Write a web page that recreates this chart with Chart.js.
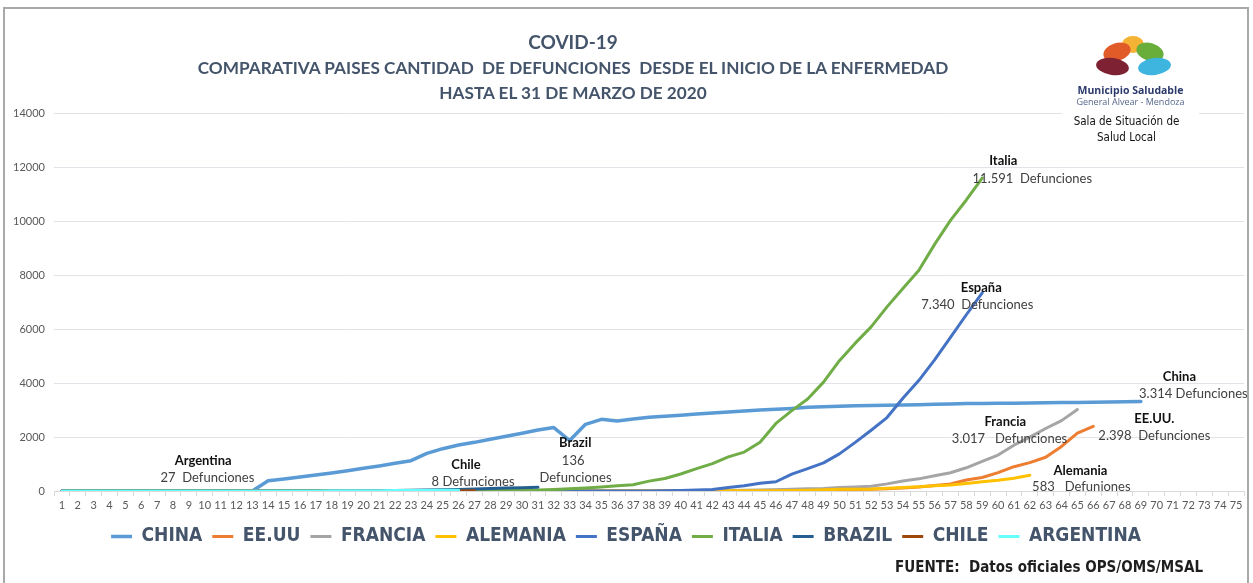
<!DOCTYPE html>
<html><head><meta charset="utf-8">
<script src="https://cdn.jsdelivr.net/npm/chart.js@4.4.1/dist/chart.umd.min.js"></script>
<style>
html,body{margin:0;padding:0;background:#fff;}
#wrap{position:relative;width:1253px;height:583px;overflow:hidden;background:#fff;}
#frame{position:absolute;left:3px;top:7px;width:1246px;height:620px;border:2px solid #A9A9A9;box-sizing:border-box;pointer-events:none;}
canvas{position:absolute;left:0;top:0;}
.t{position:absolute;left:173px;width:800px;text-align:center;color:#44546A;font-family:Lato,'Open Sans',sans-serif;font-weight:700;white-space:nowrap;line-height:1;}
#logo{position:absolute;left:1062px;top:22px;width:137px;height:128px;background:#fff;}
.p{position:absolute;border-radius:50%;}
.lt{position:absolute;left:0;width:137px;text-align:center;white-space:nowrap;line-height:1;}
#src{position:absolute;right:50px;top:560px;font-family:'Liberation Sans Narrow','DejaVu Sans Condensed','Roboto Condensed',sans-serif;font-weight:700;font-size:15px;color:#1E1E1E;white-space:nowrap;line-height:1;}
</style></head>
<body>
<div id="wrap">
<canvas id="c" width="1253" height="583"></canvas>
<div class="t" style="top:32px;font-size:19px;">COVID-19</div>
<div class="t" style="top:59px;font-size:17.2px;">COMPARATIVA PAISES CANTIDAD&nbsp; DE DEFUNCIONES&nbsp; DESDE EL INICIO DE LA ENFERMEDAD</div>
<div class="t" style="top:84px;font-size:17.2px;">HASTA EL 31 DE MARZO DE 2020</div>
<div id="logo">
  <div class="p" style="left:60px;top:14px;width:22px;height:17px;background:#F5B335;"></div>
  <div class="p" style="left:41px;top:21px;width:28px;height:18px;background:#E15B29;transform:rotate(-18deg);"></div>
  <div class="p" style="left:74px;top:21px;width:28px;height:18px;background:#69AD3B;transform:rotate(18deg);"></div>
  <div class="p" style="left:34px;top:36px;width:33px;height:17px;background:#7E2233;transform:rotate(8deg);"></div>
  <div class="p" style="left:76px;top:36px;width:33px;height:17px;background:#3DB5DE;transform:rotate(-8deg);"></div>
  <div class="p" style="left:68px;top:32px;width:8px;height:8px;background:#fff;"></div>
  <div class="lt" style="top:63px;font-family:'Open Sans',Lato,sans-serif;font-weight:700;font-size:10.5px;color:#2B3A6A;">Municipio Saludable</div>
  <div class="lt" style="top:75px;font-family:'Open Sans',Lato,sans-serif;font-size:9px;color:#56688C;">General Alvear - Mendoza</div>
  <div class="lt" style="top:94px;left:-4px;font-family:'Liberation Sans Narrow','DejaVu Sans Condensed',sans-serif;font-size:11.5px;color:#111;">Sala de Situación de</div>
  <div class="lt" style="top:110px;left:-4px;font-family:'Liberation Sans Narrow','DejaVu Sans Condensed',sans-serif;font-size:11.5px;color:#111;">Salud Local</div>
</div>
<div id="src">FUENTE:&nbsp; Datos oficiales OPS/OMS/MSAL</div>
<div id="frame"></div>
</div>
<script>
// ---------- DATA ----------
const days = ['1','2','3','4','5','6','7','8','9','10','11','12','13','14','15','16','17','18','19','20',
  '21','22','23','24','25','26','27','28','29','30','31','32','33','34','35','36','37','38','39','40',
  '41','42','43','44','45','46','47','48','49','50','51','52','53','54','55','56','57','58','59','60',
  '61','62','63','64','65','66','67','68','69','70','71','72','73','74','75'];

const seriesNames = ['CHINA','EE.UU','FRANCIA','ALEMANIA','ESPAÑA','ITALIA','BRAZIL','CHILE','ARGENTINA'];

const china = [0,0,0,0,0,0,0,0,0,0,0,0,0,
  380,444,518,593,667,752,840,926,1025,1123,1395,1567,1704,1802,1914,2025,2136,2259,2350,
  1870,2470,2655,2590,2665,2728,2765,2802,2850,2887,2925,2960,3000,3025,3060,3100,3120,3136,
  3158,3169,3176,3189,3199,3213,3226,3237,3245,3249,3253,3261,3270,3277,3281,3287,3295,3304,3314];

const eeuu = [0,0,0,0,0,0,0,0,0,0,0,0,0,0,0,0,0,0,0,0,
  0,0,0,0,0,0,0,0,0,0,0,0,0,0,0,0,1,1,6,9,
  11,12,15,19,22,26,30,38,41,48,57,68,86,109,150,207,260,410,500,680,
  900,1050,1250,1650,2140,2398];

const francia = [0,0,0,0,0,0,0,0,0,0,0,0,0,0,0,0,0,0,0,0,
  0,0,0,0,0,0,0,0,0,0,1,1,2,2,2,3,3,3,4,7,
  9,16,19,30,33,48,61,79,91,127,148,175,264,372,450,562,674,860,1100,1331,
  1696,1995,2314,2606,3017];

const alemania = [0,0,0,0,0,0,0,0,0,0,0,0,0,0,0,0,0,0,0,0,
  0,0,0,0,0,0,0,0,0,0,0,0,0,0,0,0,0,0,0,0,
  2,3,6,8,11,13,20,30,45,63,63,70,100,130,160,190,222,280,345,400,
  469,583];

const espana = [0,0,0,0,0,0,0,0,0,0,0,0,0,0,0,0,0,0,0,0,
  0,0,0,0,0,0,0,0,0,0,0,0,0,0,0,1,2,3,5,17,
  35,55,133,195,289,342,623,830,1043,1375,1800,2250,2720,3434,4089,4858,5690,6528,7340];

const italia = [0,0,0,0,0,0,0,0,0,0,0,0,0,0,0,0,0,0,0,0,0,
  1,2,3,7,10,12,17,21,29,34,
  52,79,107,148,197,233,366,463,631,827,
  1016,1266,1441,1809,2503,2978,3405,4032,4825,5476,
  6077,6820,7503,8165,9134,10023,10779,11591];

const brazil = [0,0,0,0,0,0,0,0,0,0,0,0,0,0,0,0,0,1,3,6,
  11,18,25,34,46,59,77,92,111,120,136];

const chile = [0,0,0,0,0,0,0,0,0,0,0,0,0,0,0,0,0,0,0,0,
  0,1,1,2,3,4,8];

const argentina = [1,1,1,1,1,1,2,2,2,2,2,2,3,3,4,4,4,6,8,9,13,18,19,23,25,27];

const yTicks = [0,2000,4000,6000,8000,10000,12000,14000];

// Text notes on the chart, anchored in data units (day, value)
const notes = [
  {text:'Argentina', day:9.9, value:1120, bold:true},
  {text:'27  Defunciones', day:10.17, value:481},
  {text:'Chile', day:26.47, value:963, bold:true},
  {text:'8 Defunciones', day:26.91, value:333},
  {text:'Brazil', day:33.35, value:1767, bold:true},
  {text:'136', day:33.22, value:1122},
  {text:'Defunciones', day:33.37, value:481},
  {text:'Italia', day:60.33, value:12222, bold:true},
  {text:'11.591  Defunciones', day:62.16, value:11556},
  {text:'España', day:58.94, value:7519, bold:true},
  {text:'7.340  Defunciones', day:58.69, value:6889},
  {text:'China', day:71.43, value:4222, bold:true},
  {text:'3.314 Defunciones', day:72.31, value:3593},
  {text:'Francia', day:60.46, value:2556, bold:true},
  {text:'3.017   Defunciones', day:60.72, value:1920},
  {text:'EE.UU.', day:69.85, value:2667, bold:true},
  {text:'2.398  Defunciones', day:69.85, value:2037},
  {text:'Alemania', day:65.19, value:741, bold:true},
  {text:'583   Defuniones', day:65.25, value:148}
];

const colors = ['#5B9BD5','#ED7D31','#A5A5A5','#FFC000','#4472C4','#70AD47','#255E91','#9E480E','#66FFFF'];
const values = [china, eeuu, francia, alemania, espana, italia, brazil, chile, argentina];

const notesPlugin = {
  id:'notes',
  afterDatasetsDraw(chart){
    const ctx = chart.ctx, xs = chart.scales.x, ys = chart.scales.y;
    ctx.save();
    ctx.textAlign = 'center';
    ctx.textBaseline = 'middle';
    notes.forEach(n=>{
      ctx.font = (n.bold ? '700 ' : '400 ') + '13px Lato, "Open Sans", sans-serif';
      ctx.fillStyle = n.bold ? '#111111' : '#404040';
      ctx.fillText(n.text, xs.getPixelForValue(n.day - 1), ys.getPixelForValue(n.value));
    });
    ctx.restore();
  }
};

const narrow = "'Liberation Sans Narrow','DejaVu Sans Condensed','Roboto Condensed',sans-serif";

new Chart(document.getElementById('c'), {
  type:'line',
  data:{
    labels: days,
    datasets: seriesNames.map((name,i)=>({
      label:name,
      data:values[i],
      borderColor:colors[i],
      backgroundColor:colors[i],
      borderWidth: i===0 ? 3.5 : 3,
      pointRadius:0,
      pointHoverRadius:0,
      tension:0,
      fill:false,
      order: seriesNames.length - i,
      borderCapStyle:'round',
      borderJoinStyle:'round'
    }))
  },
  options:{
    responsive:false,
    animation:false,
    devicePixelRatio:1,
    layout:{padding:{left:8,right:9,top:113,bottom:27}},
    scales:{
      x:{
        offset:true,
        grid:{display:true,drawOnChartArea:false,offset:true,tickLength:5,color:'#D9D9D9'},
        border:{display:true,color:'#D9D9D9'},
        ticks:{autoSkip:false,maxRotation:0,color:'#595959',font:{family:'Lato, "Open Sans", sans-serif',size:11},padding:3},
        afterFit(s){ s.height = 26; }
      },
      y:{
        min:0,max:14000,
        afterBuildTicks(s){ s.ticks = yTicks.map(v=>({value:v})); },
        grid:{color:'#E2E2E8',drawTicks:false},
        border:{display:false},
        ticks:{color:'#595959',font:{family:'Lato, "Open Sans", sans-serif',size:11},padding:9,callback:v=>String(v)},
        afterFit(s){ s.width = 46; }
      }
    },
    plugins:{
      legend:{
        position:'bottom',
        labels:{
          usePointStyle:true,
          pointStyle:'line',
          pointStyleWidth:21,
          padding:10,
          color:'#44546A',
          font:{family:narrow,size:19,weight:'bold'},
          sort:(a,b)=>a.datasetIndex-b.datasetIndex
        }
      },
      tooltip:{enabled:false},
      title:{display:false}
    }
  },
  plugins:[notesPlugin]
});
</script>
</body></html>
